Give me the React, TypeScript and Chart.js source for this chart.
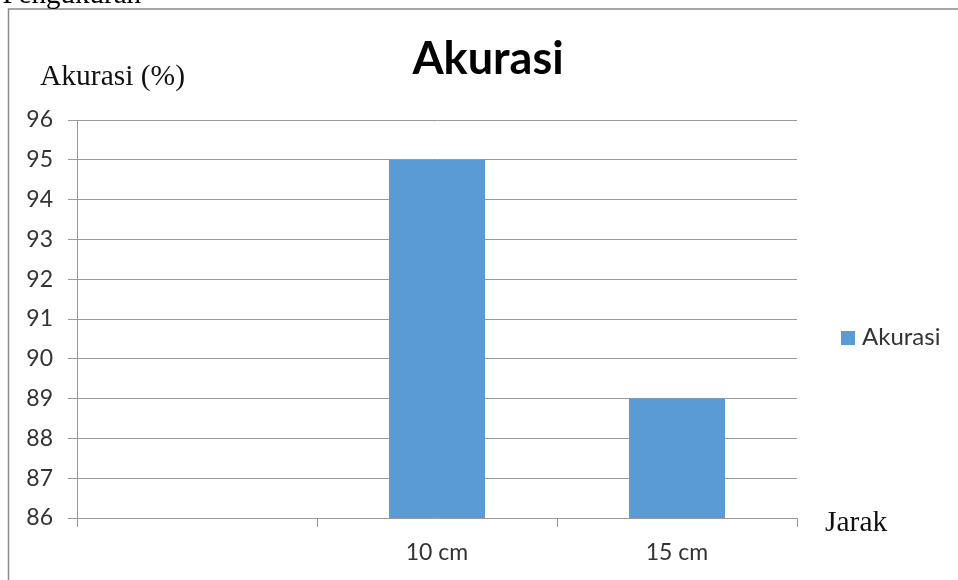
import React, { useEffect, useRef } from "react";
import { Chart, registerables } from "chart.js";

Chart.register(...registerables);

const categories = ["", "10 cm", "15 cm"];
const accuracyValues: (number | null)[] = [null, 95, 89];
const seriesName = "Akurasi";
const chartTitle = "Akurasi";
const yAxisLabel = "Akurasi (%)";
const xAxisLabel = "Jarak";
const topCutText = "i Pengukuran";
const yMin = 86;
const yMax = 96;

const barColor = "#5B9BD5";
const gridColor = "#9a9a9a";
const tickColor = "#333333";

const decorPlugin = {
  id: "decor",
  afterDraw(chart: any) {
    const ctx = chart.ctx;
    ctx.save();
    // frame
    ctx.strokeStyle = "#8a8a8a";
    ctx.lineWidth = 1.5;
    ctx.beginPath();
    ctx.moveTo(8.5, 580);
    ctx.lineTo(8.5, 9);
    ctx.lineTo(958, 9);
    ctx.stroke();

    // cut-off text at top
    ctx.fillStyle = "#000";
    ctx.font = "29px 'Liberation Serif'";
    ctx.textAlign = "right";
    ctx.textBaseline = "alphabetic";
    ctx.fillText(topCutText, 141, 3);

    // title
    ctx.font = "bold 45px Lato";
    ctx.textAlign = "center";
    ctx.fillStyle = "#000";
    ctx.fillText(chartTitle, 488, 74);

    // axis labels
    ctx.font = "29.5px 'Liberation Serif'";
    ctx.textAlign = "left";
    ctx.fillStyle = "#111";
    ctx.fillText(yAxisLabel, 40, 85);
    ctx.fillText(xAxisLabel, 825, 531);

    // legend
    const ds = chart.data.datasets[0];
    ctx.fillStyle = ds.backgroundColor;
    ctx.fillRect(841, 331, 14, 14);
    ctx.fillStyle = tickColor;
    ctx.font = "24px Lato";
    ctx.fillText(ds.label, 862, 345);
    ctx.restore();
  },
};

export default function App() {
  const canvasRef = useRef<HTMLCanvasElement | null>(null);

  useEffect(() => {
    if (!canvasRef.current) return;
    const chart = new Chart(canvasRef.current, {
      type: "bar",
      data: {
        labels: categories,
        datasets: [
          {
            label: seriesName,
            data: accuracyValues,
            backgroundColor: barColor,
            borderWidth: 0,
            categoryPercentage: 1,
            barPercentage: 0.4,
          },
        ],
      },
      options: {
        responsive: false,
        animation: false,
        devicePixelRatio: 1,
        layout: { padding: { left: 0, right: 161, top: 120, bottom: 0 } },
        plugins: {
          legend: { display: false },
          title: { display: false },
          tooltip: { enabled: false },
        },
        scales: {
          x: {
            type: "category",
            offset: true,
            grid: {
              display: true,
              drawOnChartArea: false,
              drawTicks: true,
              tickLength: 9,
              color: gridColor,
              offset: true,
            },
            border: { display: true, color: gridColor, width: 1 },
            ticks: {
              color: tickColor,
              font: { family: "Lato", size: 23 },
              padding: 12,
              maxRotation: 0,
            },
            afterFit: (scale: any) => {
              scale.height = 62;
            },
          },
          y: {
            min: yMin,
            max: yMax,
            ticks: {
              stepSize: 1,
              color: tickColor,
              font: { family: "Lato", size: 23 },
              padding: 15,
            },
            grid: {
              color: gridColor,
              tickLength: 9,
              lineWidth: 1,
            },
            border: { display: true, color: gridColor, width: 1 },
            afterFit: (scale: any) => {
              scale.width = 77;
            },
          },
        },
      },
      plugins: [decorPlugin],
    });
    return () => chart.destroy();
  }, []);

  return (
    <div style={{ position: "absolute", left: 0, top: 0, width: 958, height: 580 }}>
      <canvas ref={canvasRef} width={958} height={580} style={{ display: "block" }} />
    </div>
  );
}
